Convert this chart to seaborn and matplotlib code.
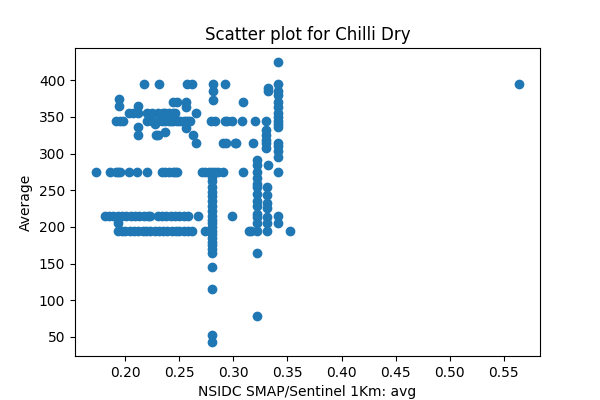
import matplotlib
matplotlib.use("Agg")
import matplotlib.pyplot as plt
import seaborn as sns
import pandas as pd

# Values: (SMAP avg, Average)
smap_avg = [
    # top rows
    0.341, 0.217, 0.231, 0.257, 0.262, 0.281, 0.292, 0.341, 0.564,
    0.332, 0.332, 0.281, 0.281,
    0.194, 0.194, 0.212,
    0.244, 0.248, 0.256, 0.256, 0.309,
    # row ~355
    0.203, 0.207, 0.212, 0.220, 0.225, 0.230, 0.235, 0.232, 0.237, 0.240, 0.244, 0.246, 0.265,
    # row ~345
    0.191, 0.195, 0.198, 0.220, 0.225, 0.230, 0.234, 0.237, 0.240, 0.242, 0.244, 0.248,
    0.251, 0.254, 0.256, 0.258, 0.260, 0.279, 0.283, 0.292, 0.294, 0.299, 0.308, 0.320,
    0.330, 0.341,
    # between 300 and 345
    0.212, 0.212, 0.228, 0.230, 0.237, 0.256, 0.263, 0.265, 0.290, 0.301, 0.227, 0.222,
    0.245, 0.330, 0.330, 0.330, 0.330, 0.293, 0.302, 0.318, 0.330, 0.341, 0.322, 0.322,
    0.332,
    # column 0.341
    0.341, 0.341, 0.341, 0.341, 0.341, 0.341, 0.341, 0.341, 0.341, 0.341, 0.341,
    # row ~275
    0.173, 0.186, 0.191, 0.193, 0.195, 0.203, 0.211, 0.220, 0.234, 0.237, 0.240, 0.244,
    0.246, 0.248, 0.271, 0.274, 0.277, 0.283, 0.286, 0.290, 0.309, 0.322, 0.341,
    # column 0.28
    0.280, 0.280, 0.280, 0.280, 0.280, 0.280, 0.280, 0.280, 0.280, 0.280, 0.280, 0.280,
    0.280, 0.280, 0.280, 0.280, 0.280, 0.280, 0.280, 0.280, 0.280, 0.280, 0.280, 0.280,
    # column 0.322 lower
    0.322, 0.322, 0.322, 0.322, 0.322, 0.322, 0.322, 0.322, 0.322, 0.322, 0.322, 0.322,
    # column 0.331 lower
    0.331, 0.331, 0.331, 0.331, 0.331, 0.331, 0.331,
    0.341, 0.341, 0.299, 0.267, 0.193,
    # row ~215
    0.181, 0.185, 0.189, 0.193, 0.197, 0.201, 0.205, 0.209, 0.213, 0.217, 0.221, 0.223,
    0.230, 0.234, 0.238, 0.242, 0.246, 0.250, 0.254, 0.258,
    # row ~195
    0.193, 0.197, 0.200, 0.204, 0.208, 0.212, 0.216, 0.219, 0.223, 0.227, 0.231, 0.235,
    0.239, 0.243, 0.247, 0.250, 0.254, 0.258, 0.262, 0.274, 0.314, 0.316, 0.352,
]

average = [
    425, 395, 395, 395, 395, 395, 395, 395, 395,
    390, 385, 385, 373,
    375, 365, 365,
    370, 370, 370, 363, 370,
    355, 355, 355, 355, 355, 355, 355, 350, 355, 355, 355, 355, 355,
    345, 345, 345, 345, 345, 345, 345, 345, 345, 345, 345, 345,
    345, 345, 345, 345, 345, 345, 345, 345, 345, 345, 345, 345,
    345, 345,
    336, 325, 325, 325, 330, 335, 325, 315, 315, 315, 340, 350,
    350, 332, 325, 318, 308, 315, 315, 315, 315, 315, 291, 285,
    285,
    385, 371, 363, 355, 336, 311, 304, 296, 380, 350, 340,
    275, 275, 275, 275, 275, 275, 275, 275, 275, 275, 275, 275,
    275, 275, 275, 275, 275, 275, 275, 275, 275, 275, 275,
    275, 268, 262, 255, 248, 242, 235, 228, 222, 215, 210, 205,
    200, 195, 190, 185, 180, 175, 170, 165, 145, 115, 52, 43,
    267, 259, 255, 245, 235, 229, 218, 213, 205, 195, 165, 78,
    255, 244, 233, 226, 213, 205, 195,
    215, 205, 215, 215, 205,
    215, 215, 215, 215, 215, 215, 215, 215, 215, 215, 215, 215,
    215, 215, 215, 215, 215, 215, 215, 215,
    195, 195, 195, 195, 195, 195, 195, 195, 195, 195, 195, 195,
    195, 195, 195, 195, 195, 195, 195, 195, 195, 195, 195,
]

df = pd.DataFrame({"NSIDC SMAP/Sentinel 1Km: avg": smap_avg, "Average": average})

fig, ax = plt.subplots(figsize=(6, 4), dpi=100)
sns.scatterplot(data=df, x="NSIDC SMAP/Sentinel 1Km: avg", y="Average",
                color="#1f77b4", s=36, edgecolor="#1f77b4", linewidth=1.0,
                alpha=1, ax=ax)
ax.set_title("Scatter plot for Chilli Dry")
ax.set_xlabel("NSIDC SMAP/Sentinel 1Km: avg")
ax.set_ylabel("Average")
fig.savefig("out.png", dpi=100)
